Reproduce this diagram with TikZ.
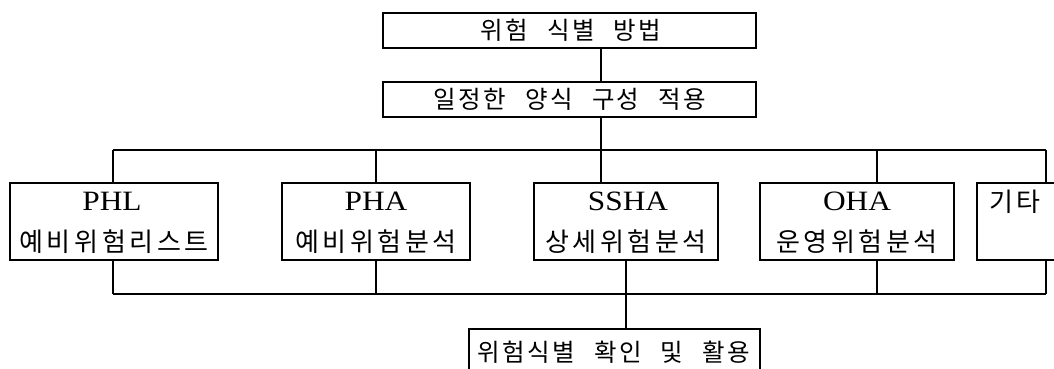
\documentclass[tikz,border=0pt]{standalone}
\usepackage{fontspec}
\setmainfont{Liberation Serif}
\newfontfamily\lat{Liberation Serif}[FakeStretch=1.12]
\newfontfamily\kr{Noto Sans CJK KR}[LetterSpace=10]
\newfontfamily\krw{Noto Sans CJK KR}[LetterSpace=14]
\newcommand\krgap{\hspace{19pt}}
\begin{document}
\begin{tikzpicture}[x=1pt,y=-1pt,
  box/.style={draw,line width=1.1pt,inner sep=0pt},
  ln/.style={line width=1.1pt},
  head/.style={font=\kr\fontsize{24.5}{26}\selectfont},
  abbr/.style={font=\lat\fontsize{28}{30}\selectfont},
  kname/.style={font=\krw\fontsize{26}{28}\selectfont}]
\useasboundingbox (0,0) rectangle (1054,368);
% top boxes
\node[box,minimum width=373pt,minimum height=35pt] (top) at (569.5,30.5) {};
\node[head] (topT) at (571,30.5) {위험\krgap 식별\krgap 방법};
\node[box,minimum width=373pt,minimum height=35pt] (mid) at (569.5,99.5) {};
\node[head] (midT) at (570,99.5) {일정한\krgap 양식\krgap 구성\krgap 적용};
% middle row boxes
\node[box,minimum width=208pt,minimum height=77pt] (phl) at (114,221.5) {};
\node[box,minimum width=188pt,minimum height=77pt] (pha) at (376,221.5) {};
\node[box,minimum width=184pt,minimum height=77pt] (ssha) at (626,221.5) {};
\node[box,minimum width=194pt,minimum height=77pt] (oha) at (857,221.5) {};
\node[box,minimum width=83pt,minimum height=77pt] (etc) at (1018.5,221.5) {};
\node[abbr] (phlA) at (112,201) {PHL};
\node[kname] (phlB) at (114,242) {예비위험리스트};
\node[abbr] (phaA) at (376,201) {PHA};
\node[kname] (phaB) at (376,242) {예비위험분석};
\node[abbr] (sshaA) at (628,201) {SSHA};
\node[kname] (sshaB) at (626,242) {상세위험분석};
\node[abbr] (ohaA) at (857,201) {OHA};
\node[kname] (ohaB) at (857,242) {운영위험분석};
\node[kname] (etcA) at (1015,202) {기타};
% bottom box
\node[box,minimum width=291pt,minimum height=52pt] (bot) at (614.5,355) {};
\node[head] (botT) at (614,352) {위험식별\krgap 확인\krgap 및\krgap 활용};
% connector coordinates
\coordinate (tbL) at (113,150);
\coordinate (tbR) at (1046,150);
\coordinate (bbL) at (113,294);
\coordinate (bbR) at (1046,294);
\coordinate (cx) at (601,150);
\coordinate (phax) at (376,150);
\coordinate (ohax) at (877,150);
\coordinate (sshx) at (626,294);
% connectors
\draw[ln] (top.south -| cx) -- (mid.north -| cx);
\draw[ln] (mid.south -| cx) -- (cx);
\draw[ln] (tbL) -- (tbR);
\draw[ln] (bbL) -- (bbR);
\draw[ln] (tbL) -- (phl.north -| tbL);
\draw[ln] (phax) -- (pha.north -| phax);
\draw[ln] (cx) -- (ssha.north -| cx);
\draw[ln] (ohax) -- (oha.north -| ohax);
\draw[ln] (tbR) -- (etc.north -| tbR);
\draw[ln] (phl.south -| bbL) -- (bbL);
\draw[ln] (pha.south -| phax) -- (phax |- bbL);
\draw[ln] (oha.south -| ohax) -- (ohax |- bbL);
\draw[ln] (etc.south -| bbR) -- (bbR);
\draw[ln] (ssha.south -| sshx) -- (bot.north -| sshx);
\end{tikzpicture}
\end{document}
